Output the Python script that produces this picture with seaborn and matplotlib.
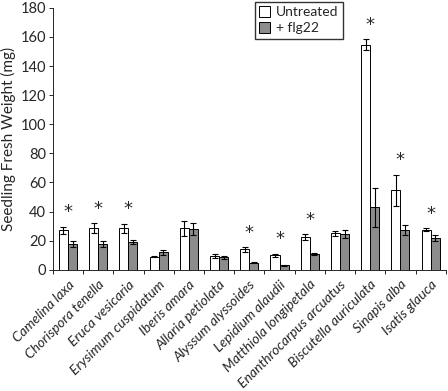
import numpy as np
import pandas as pd
import matplotlib
matplotlib.use("Agg")
import matplotlib.pyplot as plt
import seaborn as sns

# --- Data ---
species = ["Camelina laxa", "Chorispora tenella", "Eruca vesicaria", "Erysimum cuspidatum",
           "Iberis amara", "Allaria petiolata", "Alyssum alyssoides", "Lepidium alaudii",
           "Matthiola longipetala", "Enanthrocarpus arcuatus", "Biscutella auriculata",
           "Sinapis alba", "Isatis glauca"]
untreated = [27, 28.5, 28.5, 9, 28.5, 9.5, 14, 10, 22.5, 25, 154.5, 54.5, 27.5]
untreated_err = [2.5, 3.5, 3, 0.5, 5, 1.5, 1.5, 1, 2, 1.8, 3.8, 10.7, 1]
flg22 = [17.5, 17.5, 19, 12, 28, 8.5, 5, 3, 11, 24.5, 43, 27.5, 22]
flg22_err = [2, 2, 1.5, 1.5, 4, 1, 0.5, 0.3, 0.8, 2.5, 13.5, 3.5, 2]
significant = [True, True, True, False, False, False, True, True, True, False, True, True, True]

df = pd.DataFrame({
    "species": species * 2,
    "weight": untreated + flg22,
    "treatment": ["Untreated"] * len(species) + ["+ flg22"] * len(species),
})

sns.set_style("ticks")
plt.rcParams["font.family"] = ["Lato", "DejaVu Sans"]

fig, ax = plt.subplots(figsize=(4.48, 3.91), dpi=100)
fig.subplots_adjust(left=0.118, right=0.995, top=0.98, bottom=0.31)

sns.barplot(data=df, x="species", y="weight", hue="treatment",
            palette=["white", "#8c8c8c"], edgecolor="black", linewidth=0.7,
            width=0.6, errorbar=None, ax=ax)

# --- error bars from the bar positions ---
errs = [untreated_err, flg22_err]
vals = [untreated, flg22]
for cont, err, v in zip(ax.containers, errs, vals):
    xs = [p.get_x() + p.get_width() / 2 for p in cont.patches]
    ax.errorbar(xs, v, yerr=err, fmt="none", ecolor="black", elinewidth=0.8,
                capsize=2, capthick=0.8)

# --- significance stars ---
for i, sig in enumerate(significant):
    if sig:
        top = max(untreated[i] + untreated_err[i], flg22[i] + flg22_err[i])
        ax.text(i, top + 10, "*", ha="center", va="center", fontsize=13,
                family="DejaVu Sans")

ax.set_ylim(0, 180)
ax.set_yticks(range(0, 181, 20))
ax.set_xlim(-0.5, len(species) - 0.5)
ax.set_xticks(np.arange(len(species)))
ax.set_xticklabels(species, rotation=45, ha="right", rotation_mode="anchor",
                   style="italic", fontsize=10)
ax.tick_params(axis="x", length=0, pad=6)
ax.set_xticks(np.arange(len(species) + 1) - 0.5, minor=True)
ax.tick_params(axis="x", which="minor", length=3, width=0.7)
ax.tick_params(axis="y", labelsize=10.5, length=3, width=0.7, pad=2)
ax.set_xlabel("")
ax.set_ylabel("Seedling Fresh Weight (mg)", fontsize=11, labelpad=3)
sns.despine(ax=ax, right=True, top=True)
for s in ["left", "bottom"]:
    ax.spines[s].set_linewidth(0.7)

ax.legend(loc="upper left", bbox_to_anchor=(0.515, 1.023), borderaxespad=0,
          frameon=True, fancybox=False, edgecolor="black", fontsize=10,
          handlelength=0.8, handleheight=0.8, handletextpad=0.4,
          borderpad=0.3, labelspacing=0.3)

plt.savefig("out.png", dpi=100)
